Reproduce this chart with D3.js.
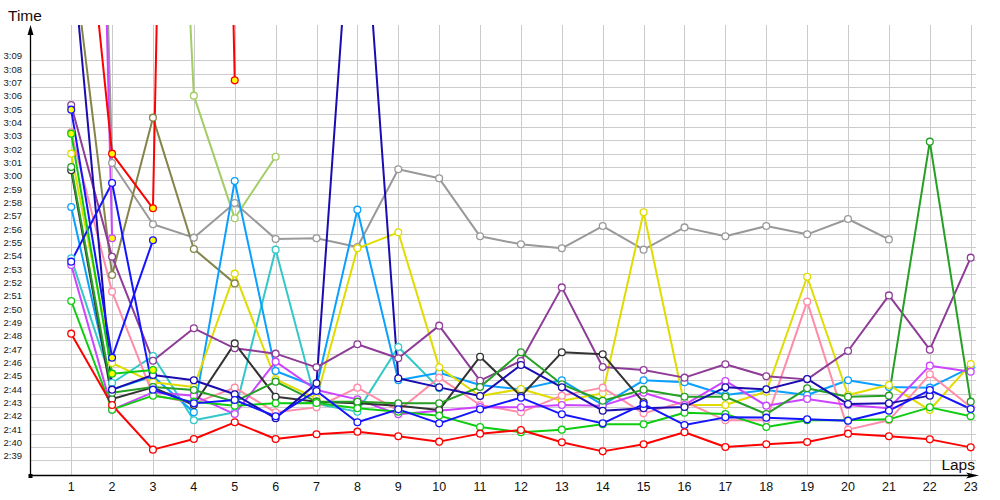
<!DOCTYPE html>
<html><head><meta charset="utf-8">
<script src="https://cdn.jsdelivr.net/npm/d3@7/dist/d3.min.js"></script>
<style>body{margin:0;background:#fff}svg{display:block}text{font-family:"Liberation Sans",Arial,sans-serif}</style>
</head><body><svg id="c" width="1000" height="500"></svg>
<script>
// lap numbers
const laps = d3.range(1, 24);
// y tick values in seconds (2:39 .. 3:09)
const yTicks = d3.range(159, 190);
// lap times in seconds, index 0 = lap 1; null = no lap
const gray = [290,181.3,176.7,175.7,178.3,175.6,175.65,175.0,180.83,180.15,175.8,175.2,174.9,176.57,174.8,176.47,175.8,176.57,175.95,177.1,175.57,null,null];
const olive = [198,172.9,184.7,174.85,172.27,null,null,null,null,null,null,null,null,null,null,null,null,null,null,null,null,null,null];
const lightGreen = [null,null,250,186.35,177.15,181.77,null,null,null,null,null,null,null,null,null,null,null,null,null,null,null,null,null];
const cyan = [174.15,164.8,166.82,162.0,162.6,174.8,163.22,162.65,167.5,164.4,null,null,null,null,null,null,null,null,null,null,null,null,null];
const lightBlue = [178.0,164.3,165.3,162.6,179.95,165.7,164.5,177.8,165.0,165.57,164.65,164.32,165.0,163.15,165.0,164.85,163.9,164.27,163.9,165.0,164.5,164.45,165.97];
const yellow = [182,166.3,164.85,164.5,173.0,165.07,163.65,174.9,176.1,165.97,163.82,164.35,163.47,164.02,177.6,163.15,163.15,164.15,172.77,163.9,164.65,162.77,166.22];
const pink = [183.6,171.65,163.9,163.27,164.45,162.6,162.97,164.45,162.72,165.2,163.15,162.6,163.85,164.45,162.52,163.4,162.0,162.0,170.9,161.3,162.0,165.45,163.0];
const purple = [185.65,174.27,166.47,168.9,167.4,167.0,165.97,167.7,166.65,169.1,164.97,166.45,171.97,166.0,165.77,165.2,166.2,165.3,165.07,167.2,171.37,167.3,174.2];
const magenta = [173.65,162.8,164.1,163.85,162.47,166.4,164.27,163.57,162.45,162.72,163.0,162.97,163.15,163.1,164.07,163.15,164.95,163.1,163.6,163.15,162.9,166.1,165.65];
const black = [180.75,163.6,164.47,163.15,167.77,163.77,163.4,163.27,163.1,162.77,166.77,163.82,167.1,166.95,163.35,null,null,null,null,null,null,null,null];
const darkGreen = [181.0,164.07,164.5,164.27,163.4,164.9,163.4,163.4,163.27,163.27,164.5,167.1,164.7,163.47,164.3,163.77,163.77,162.47,164.4,163.77,163.85,182.9,163.4];
const green = [170.95,162.8,163.85,163.4,163.1,163.27,163.3,162.9,162.65,162.35,161.5,161.1,161.3,161.7,161.7,162.57,162.47,161.5,162.0,162.0,162.07,162.97,162.3];
const navy = [198,164.3,165.4,165.0,163.95,162.15,164.77,208,165.15,164.47,163.82,166.15,164.47,162.72,162.9,163.0,164.47,164.32,165.1,163.22,163.27,163.85,null];
const blue = [173.9,179.8,164.3,163.27,163.52,162.3,164.2,161.85,162.82,161.77,162.82,163.7,162.45,161.77,163.22,161.65,162.22,162.2,162.07,161.97,162.72,164.27,162.85];
const blueYellow = [185.3,166.7,175.5,null,null,null,null,null,null,null,null,null,null,null,null,null,null,null,null,null,null,null,null];
const greenYellow = [183.5,165.5,165.77,null,null,null,null,null,null,null,null,null,null,null,null,null,null,null,null,null,null,null,null];
const magentaYellow = [300,175.65,null,null,null,null,null,null,null,null,null,null,null,null,null,null,null,null,null,null,null,null,null];
const redYellow = [212,182.0,177.9,330,187.5,null,null,null,null,null,null,null,null,null,null,null,null,null,null,null,null,null,null];
const red = [168.5,163.15,159.8,160.6,161.85,160.6,160.95,161.15,160.8,160.4,161.0,161.27,160.35,159.67,160.2,161.1,160.0,160.2,160.37,161.0,160.8,160.57,159.97];

const series = [
  {v: gray, c: "#999999", f: "#fff"},
  {v: olive, c: "#84844a", f: "#fff"},
  {v: lightGreen, c: "#a3cc66", f: "#fff"},
  {v: cyan, c: "#33c8c8", f: "#fff"},
  {v: lightBlue, c: "#0aa0ff", f: "#fff"},
  {v: yellow, c: "#e0dc00", f: "#fff"},
  {v: pink, c: "#ff8ca8", f: "#fff"},
  {v: purple, c: "#8e3c98", f: "#fff"},
  {v: magenta, c: "#cc44ff", f: "#fff"},
  {v: black, c: "#333333", f: "#fff"},
  {v: darkGreen, c: "#25a025", f: "#fff"},
  {v: green, c: "#10cc10", f: "#fff"},
  {v: navy, c: "#1a0cb0", f: "#fff"},
  {v: blue, c: "#1414ff", f: "#fff"},
  {v: blueYellow, c: "#1414ff", f: "#ffff00"},
  {v: greenYellow, c: "#10cc10", f: "#ffff00"},
  {v: magentaYellow, c: "#cc44ff", f: "#ffff00"},
  {v: redYellow, c: "#ff0000", f: "#ffff00"},
  {v: red, c: "#ff0000", f: "#fff"}
];

const svg = d3.select("#c");
const x = d3.scaleLinear().domain([0, 23]).range([30.3, 970.7]);
const y = d3.scaleLinear().domain([157.845, 191.65]).range([475.7, 25]);
const fmt = s => Math.floor(s / 60) + ":" + String(Math.round(s % 60)).padStart(2, "0");

// grid
const g = svg.append("g");
g.selectAll(".hg").data(yTicks).join("line")
  .attr("x1", x(0)).attr("x2", x(23.13))
  .attr("y1", d => Math.round(y(d)) + 0.5).attr("y2", d => Math.round(y(d)) + 0.5)
  .attr("stroke", "#cbcbcb").attr("stroke-width", 1);
g.selectAll(".vg").data(laps).join("line")
  .attr("x1", d => Math.round(x(d)) + 0.5).attr("x2", d => Math.round(x(d)) + 0.5)
  .attr("y1", 25).attr("y2", 475)
  .attr("stroke", "#cbcbcb").attr("stroke-width", 1);

// y labels
svg.selectAll(".yl").data(yTicks).join("text")
  .attr("x", 22).attr("y", d => Math.round(y(d)) - 1.5)
  .attr("text-anchor", "end").attr("font-size", 9.5).attr("fill", "#1a1a1a")
  .text(fmt);
// x labels
svg.selectAll(".xl").data(laps).join("text")
  .attr("x", d => x(d)).attr("y", 491)
  .attr("text-anchor", "middle").attr("font-size", 12.5).attr("fill", "#111")
  .text(d => d);

// clip
svg.append("clipPath").attr("id", "clip").append("rect")
  .attr("x", 31).attr("y", 25).attr("width", 960).attr("height", 450);

const line = d3.line().defined(d => d[1] != null)
  .x(d => x(d[0])).y(d => y(d[1]));
const plot = svg.append("g").attr("clip-path", "url(#clip)");
series.forEach(s => {
  const pts = s.v.map((v, i) => [laps[i], v]);
  plot.append("path").datum(pts).attr("d", line)
    .attr("fill", "none").attr("stroke", s.c).attr("stroke-width", 2)
    .attr("stroke-linejoin", "round");
});
series.forEach(s => {
  const pts = s.v.map((v, i) => [laps[i], v]).filter(d => d[1] != null && y(d[1]) > 25);
  plot.selectAll(null).data(pts).join("circle")
    .attr("cx", d => x(d[0])).attr("cy", d => y(d[1])).attr("r", 3.4)
    .attr("fill", s.f).attr("stroke", s.c).attr("stroke-width", 1.3);
});

// axes
svg.append("line").attr("x1", 30.5).attr("x2", 30.5).attr("y1", 476).attr("y2", 30)
  .attr("stroke", "#000").attr("stroke-width", 1.3);
svg.append("path").attr("d", "M30.5,25 L27.5,35 L33.5,35 Z").attr("fill", "#000");
svg.append("line").attr("x1", 30).attr("x2", 972).attr("y1", 475.5).attr("y2", 475.5)
  .attr("stroke", "#000").attr("stroke-width", 1.3);
svg.append("path").attr("d", "M979,475.5 L966,472.5 L969,475.5 L966,478.5 Z").attr("fill", "#000");
svg.append("rect").attr("x", 28.5).attr("y", 474).attr("width", 4).attr("height", 4).attr("fill", "#000");

svg.append("text").attr("x", 8).attr("y", 20.5).attr("font-size", 15.5).attr("fill", "#1a0a0a").text("Time");
svg.append("text").attr("x", 975).attr("y", 470).attr("text-anchor", "end").attr("font-size", 15.5).attr("fill", "#1a0a0a").text("Laps");
</script></body></html>
